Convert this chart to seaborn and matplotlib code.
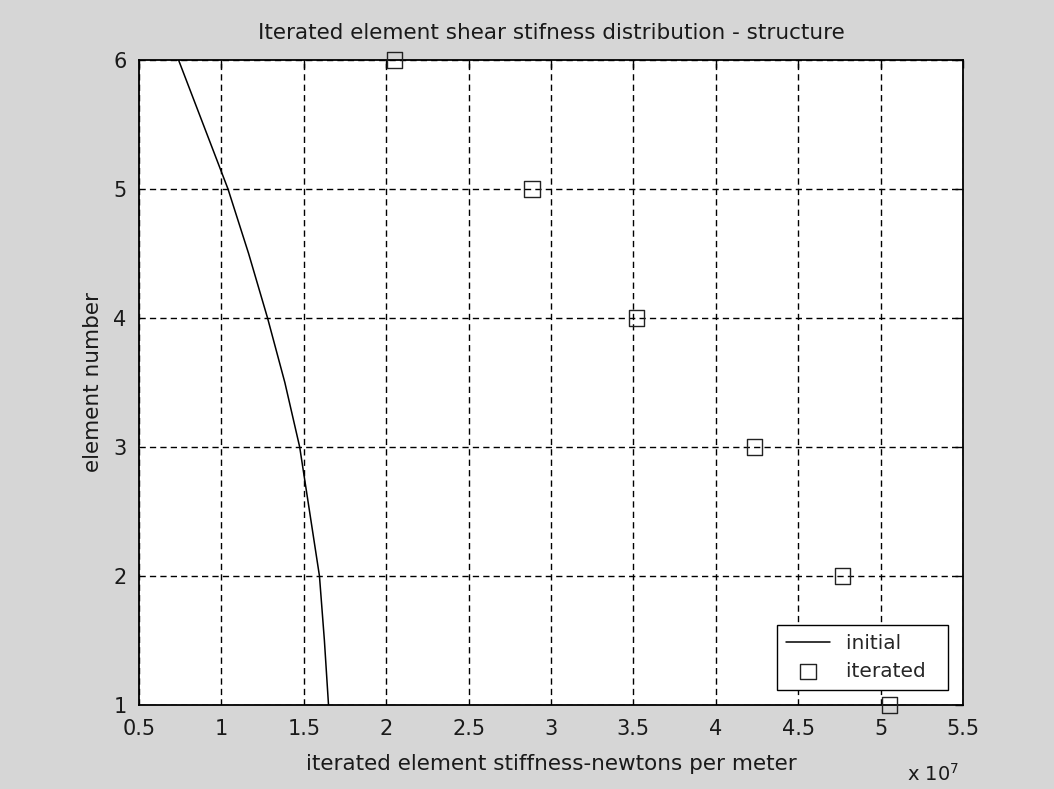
import matplotlib
matplotlib.use("Agg")
import matplotlib.pyplot as plt
import seaborn as sns
import pandas as pd

# =========================
# DATA (stiffness in units of 1e7 N/m)
# =========================
initial_element = [6, 5.5, 5, 4.5, 4, 3.5, 3, 2.5, 2, 1.5, 1]
initial_stiffness = [0.74, 0.89, 1.04, 1.165, 1.28, 1.385, 1.475, 1.535, 1.595, 1.625, 1.65]

iterated_element = [1, 2, 3, 4, 5, 6]
iterated_stiffness = [5.055, 4.77, 4.235, 3.52, 2.885, 2.05]

x_ticks = [0.5, 1, 1.5, 2, 2.5, 3, 3.5, 4, 4.5, 5, 5.5]
x_tick_labels = ["0.5", "1", "1.5", "2", "2.5", "3", "3.5", "4", "4.5", "5", "5.5"]
y_ticks = [1, 2, 3, 4, 5, 6]

initial = pd.DataFrame({"stiffness": initial_stiffness, "element": initial_element})
iterated = pd.DataFrame({"stiffness": iterated_stiffness, "element": iterated_element})

# =========================
# PLOT
# =========================
sns.set_style("white")
plt.rcParams["font.family"] = ["DejaVu Sans"]
text_color = "#1a1a1a"
bg = "#d6d6d6"

fig = plt.figure(figsize=(10.54, 7.89), dpi=100, facecolor=bg)
ax = fig.add_axes([139 / 1054, 1 - 705 / 789, (963 - 139) / 1054, (705 - 60) / 789])
ax.set_facecolor("white")

sns.lineplot(data=initial, x="stiffness", y="element", sort=False, color="black",
             linewidth=1.1, label="initial", ax=ax)
sns.scatterplot(data=iterated, x="stiffness", y="element", marker="s", s=125,
                facecolor="none", edgecolor="#222222", linewidth=1.0,
                label="iterated", clip_on=False, zorder=5, ax=ax)

ax.set_xlim(0.5, 5.5)
ax.set_ylim(1, 6)
ax.set_xticks(x_ticks)
ax.set_xticklabels(x_tick_labels)
ax.set_yticks(y_ticks)
ax.tick_params(direction="in", length=6, width=1, colors="black",
               labelcolor=text_color, labelsize=15, top=True, right=True)
ax.tick_params(axis="x", pad=10)
ax.tick_params(axis="y", pad=9)

ax.grid(True, color="black", linestyle=(0, (4.5, 3)), linewidth=1.0)
for s in ax.spines.values():
    s.set_visible(True)
    s.set_color("black")
    s.set_linewidth(1.3)

ax.set_title("Iterated element shear stifness distribution - structure",
             fontsize=15.5, color=text_color, pad=15)
ax.set_xlabel("iterated element stiffness-newtons per meter", fontsize=15.5,
              color=text_color, labelpad=11)
ax.set_ylabel("element number", fontsize=15.5, color=text_color, labelpad=7)

fig.text(907 / 1054, 1 - 781 / 789, r"x 10$^{7}$", fontsize=14, color=text_color,
         ha="left", va="baseline")

leg = ax.legend(loc="lower right", fontsize=14.5, frameon=True, fancybox=False,
                edgecolor="black", facecolor="white", framealpha=1,
                borderaxespad=0.75, handlelength=2.2, handletextpad=0.8,
                labelspacing=0.45, borderpad=0.45, scatterpoints=1)
leg.get_frame().set_linewidth(1.0)
# widen the legend box a little on the right like the original
for t in leg.get_texts():
    t.set_text(t.get_text() + "  ")

fig.savefig("out.png", dpi=100, facecolor=bg)
